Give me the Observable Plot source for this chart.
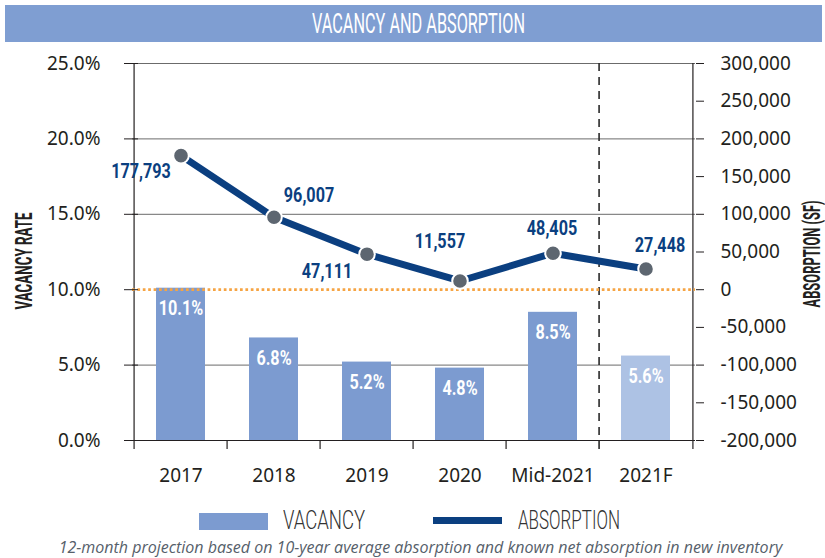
<!DOCTYPE html>
<html>
<head>
<meta charset="utf-8">
<script src="https://cdn.jsdelivr.net/npm/d3@7"></script>
<script src="https://cdn.jsdelivr.net/npm/@observablehq/plot@0.6"></script>
<style>
  html, body { margin: 0; padding: 0; background: #fff; }
  #wrap { position: relative; width: 825px; height: 558px; overflow: hidden; }
  #titlebar { position: absolute; left: 5px; top: 5px; width: 817px; height: 37px; background: #7f9ed2; z-index: 2; }
  .sq { position: absolute; display: inline-block; white-space: nowrap; transform-origin: 0 0; line-height: 1; }
  #title { color: #fff; font-family: Roboto, "DejaVu Sans", sans-serif; font-weight: 400; font-size: 28px; }
  .legtext { color: #333; font-family: Roboto, "DejaVu Sans", sans-serif; font-weight: 300; font-size: 25px; }
  .swatch { position: absolute; }
  #caption { position: absolute; left: 0; width: 825px; box-sizing: border-box; padding-left: 16px; top: 538.8px; line-height: 1; text-align: center; font-family: "Open Sans", "Noto Sans", sans-serif; font-style: italic; font-size: 16px; color: #56606a; white-space: nowrap; }
  #chart { position: absolute; left: 0; top: 0; z-index: 1; }
</style>
</head>
<body>
<div id="wrap">
  <div id="chart"></div>
  <div id="titlebar"></div>
  <span class="sq" id="title" style="z-index:3">VACANCY AND ABSORPTION</span>
  <div class="swatch" style="left:199px;top:513px;width:69px;height:17px;background:#7c9bd0"></div>
  <span class="sq legtext" id="leg1">VACANCY</span>
  <div class="swatch" style="left:433px;top:517px;width:69px;height:7px;background:#0b3f80"></div>
  <span class="sq legtext" id="leg2">ABSORPTION</span>
  <div id="caption">12-month projection based on 10-year average absorption and known net absorption in new inventory</div>
</div>
<script>
// ---- data ----
const categories = ["2017", "2018", "2019", "2020", "Mid-2021", "2021F"];
const vacancy = [10.1, 6.8, 5.2, 4.8, 8.5, 5.6];
const absorption = [177793, 96007, 47111, 11557, 48405, 27448];
const forecast = [false, false, false, false, false, true];
const vacancyTicks = [0, 5, 10, 15, 20, 25];
const absorptionTicks = [-200000, -150000, -100000, -50000, 0, 50000, 100000, 150000, 200000, 250000, 300000];
const leftTitle = "VACANCY RATE";
const rightTitle = "ABSORPTION (SF)";

// ---- styling / layout ----
const W = 825, H = 500;
const mL = 132, mR = 130, mT = 63, mB = 60;
const step = (W - mL - mR) / categories.length;
const labelDx = [-40, 35, -40, -20, -1, 14];
const labelDy = [16, -22, 17, -40, -25, -24];
const navy = "#0b3f80";
const ink = "#231f20";

// dual axis: absorption mapped onto the vacancy scale (0 SF <-> 10%, 50,000 SF <-> 2.5%)
const absToVac = a => 10 + a / 20000;
const fmtAbs = a => a.toLocaleString("en-US");
const fmtVac = v => v.toFixed(1) + "%";

const rows = categories.map((c, i) => ({
  cat: c, vac: vacancy[i], abs: absorption[i], forecast: forecast[i]
}));

const condensed = {fontFamily: "Roboto, 'DejaVu Sans', sans-serif", fontWeight: "bold"};

const marks = [
  Plot.ruleY([5, 15, 20, 25], {stroke: "#6b6b6b", strokeWidth: 1}),
  Plot.barY(rows, {x: "cat", y: "vac", fill: d => d.forecast ? "#adc2e4" : "#7c9bd0"}),
  Plot.ruleY([0], {stroke: ink, strokeWidth: 1.2}),
  Plot.ruleX([categories[0]], {dx: -step / 2, y1: 25, y2: 0, insetBottom: -9, stroke: ink, strokeWidth: 1.2}),
  Plot.ruleX([categories[categories.length - 1]], {dx: step / 2, y1: 25, y2: 0, insetBottom: -9, stroke: ink, strokeWidth: 1.2}),
  Plot.ruleX(categories.slice(1, 5), {dx: -step / 2, y1: 0, y2: 0, insetBottom: -9, stroke: ink, strokeWidth: 1.2}),
  Plot.ruleX(["2021F"], {dx: -step / 2, y1: 25, y2: 0, insetBottom: -9, stroke: "#2a2a2a", strokeWidth: 1.6, strokeDasharray: "8,6"}),
  Plot.ruleY([10], {stroke: "#f6a443", strokeWidth: 2.8, strokeDasharray: "2.7,2.7"}),
  Plot.text(rows, {x: "cat", y: "vac", text: d => fmtVac(d.vac), dy: 20, fill: "#fff", fontSize: 21, ...condensed}),
  Plot.axisY({anchor: "left", ticks: vacancyTicks, tickSize: 8, tickPadding: 24, tickFormat: fmtVac, label: null, stroke: ink, fill: ink}),
  Plot.axisY({anchor: "left", ticks: vacancyTicks, tickSize: 6, dx: 6, tickFormat: () => "", label: null, stroke: ink}),
  Plot.axisY({anchor: "right", ticks: absorptionTicks.map(absToVac), tickSize: 8, tickPadding: 17,
    tickFormat: v => fmtAbs(Math.round((v - 10) * 20000)), label: null, stroke: ink, fill: ink}),
  Plot.axisX({anchor: "bottom", tickSize: 0, tickPadding: 28, label: null, fill: ink}),
  Plot.line(rows, {x: "cat", y: d => absToVac(d.abs), stroke: navy, strokeWidth: 7}),
  Plot.dot(rows, {x: "cat", y: d => absToVac(d.abs), r: 7.8, fill: "#5d6670", stroke: "#fff", strokeWidth: 2}),
  ...rows.map((r, i) => Plot.text([r], {x: "cat", y: d => absToVac(d.abs), text: d => fmtAbs(d.abs),
    dx: labelDx[i], dy: labelDy[i], fill: navy, fontSize: 21, ...condensed})),
  Plot.text([leftTitle], {frameAnchor: "left", textAnchor: "middle", dx: -108, dy: 9, rotate: -90, fill: ink, fontSize: 24, ...condensed}),
  Plot.text([rightTitle], {frameAnchor: "right", textAnchor: "middle", dx: 117, dy: 2, rotate: -90, fill: ink, fontSize: 23, ...condensed})
];

const chart = Plot.plot({
  width: W, height: H,
  marginTop: mT, marginBottom: mB, marginLeft: mL, marginRight: mR,
  style: {background: "transparent", fontFamily: "'Noto Sans', 'Open Sans', sans-serif", fontSize: "19px", color: ink, overflow: "visible"},
  x: {type: "band", domain: categories, paddingInner: 0.47, paddingOuter: 0.235, axis: null},
  y: {domain: [0, 25], axis: null},
  color: {type: "identity"},
  marks
});
document.getElementById("chart").appendChild(chart);

// horizontal squeeze for condensed-looking labels (selected by their text)
function squeezeText(t, f) {
  const x = +(t.getAttribute("x") || 0);
  const tr = t.getAttribute("transform") || "";
  t.setAttribute("transform", `${tr} translate(${x},0) scale(${f},1) translate(${-x},0)`);
}
const condLabels = new Set([...vacancy.map(fmtVac), ...absorption.map(fmtAbs)]);
const titleTargets = new Map([[leftTitle, 97], [rightTitle, 107]]);
chart.querySelectorAll("text").forEach(t => {
  if (t.getAttribute("font-weight") !== "bold" && !(t.closest("g") && t.closest("g").getAttribute("font-weight") === "bold")) return;
  const s = t.textContent;
  if (titleTargets.has(s)) squeezeText(t, titleTargets.get(s) / t.getComputedTextLength());
  else if (condLabels.has(s)) squeezeText(t, 0.77);
});

// HTML condensed texts: fit to measured widths in the reference
function place(id, left, baseline, target, size) {
  const el = document.getElementById(id);
  const w = el.getBoundingClientRect().width;
  el.style.left = left + "px";
  el.style.top = (baseline - 0.84 * size) + "px";
  el.style.transform = `scaleX(${target / w})`;
}
place("title", 312, 33.5, 213, 28);
place("leg1", 283, 529, 82, 25);
place("leg2", 518, 529, 102, 25);
</script>
</body>
</html>
